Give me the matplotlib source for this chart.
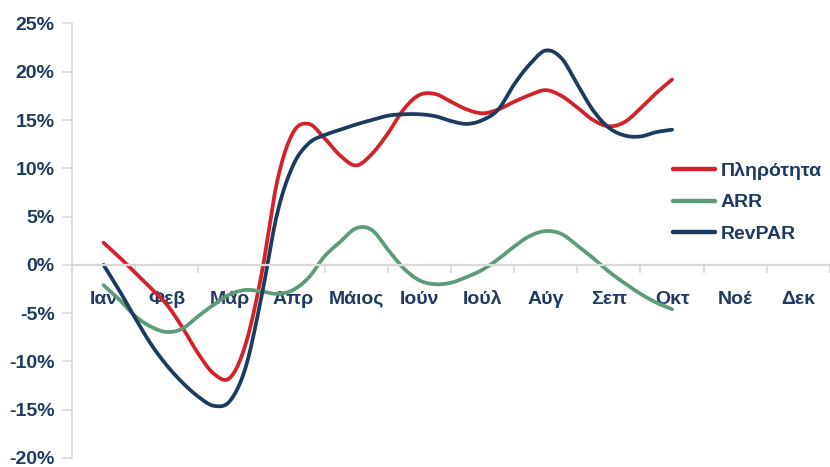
import numpy as np
import matplotlib
matplotlib.use("Agg")
import matplotlib.pyplot as plt
from matplotlib.ticker import FuncFormatter, FixedLocator

# Month labels on the category axis
months = ["Ιαν", "Φεβ", "Μάρ", "Απρ", "Μάιος", "Ιούν",
          "Ιούλ", "Αύγ", "Σεπ", "Οκτ", "Νοέ", "Δεκ"]

# Readings every quarter month, Jan → Oct (% change y/y)
occupancy = [2.3, 0.8, -0.8, -2.4, -4.1, -6.5, -9.2, -11.3, -11.7, -8.2,
             -1.0, 8.7, 13.7, 14.6, 13.1, 11.3, 10.3, 11.5, 13.6, 16.1,
             17.6, 17.7, 16.9, 16.1, 15.7, 16.1, 16.9, 17.6, 18.1, 17.5,
             16.3, 15.0, 14.35, 14.8, 16.2, 17.8, 19.2]
arr = [-2.1, -3.6, -5.3, -6.4, -6.95, -6.6, -5.3, -4.1, -3.05, -2.6,
       -2.75, -3.0, -2.6, -1.3, 0.9, 2.4, 3.8, 3.6, 1.6, -0.35,
       -1.6, -2.0, -1.85, -1.25, -0.5, 0.6, 1.9, 3.0, 3.5, 3.2,
       2.0, 0.7, -0.7, -1.9, -3.0, -3.9, -4.6]
revpar = [0.0, -2.65, -5.5, -8.2, -10.4, -12.2, -13.65, -14.6, -14.1, -10.6,
          -3.3, 5.35, 10.3, 12.6, 13.45, 14.0, 14.55, 15.0, 15.45, 15.6,
          15.6, 15.4, 14.9, 14.6, 15.0, 16.1, 18.7, 20.8, 22.2, 21.4,
          18.7, 16.0, 14.2, 13.4, 13.3, 13.75, 14.0]

series_names = ["Πληρότητα", "ARR", "RevPAR"]
colors = ["#d3222a", "#5c9c78", "#1d3a5f"]
text_color = "#1f3a60"


def smooth(x, y, n=12):
    """Catmull-Rom curve through the points, for smoothed line drawing."""
    x = np.asarray(x, float)
    y = np.asarray(y, float)
    px = np.concatenate([[2 * x[0] - x[1]], x, [2 * x[-1] - x[-2]]])
    py = np.concatenate([[2 * y[0] - y[1]], y, [2 * y[-1] - y[-2]]])
    t = np.linspace(0, 1, n, endpoint=False)
    xs, ys = [], []
    for i in range(1, len(px) - 2):
        for arrp, out in ((px, xs), (py, ys)):
            p0, p1, p2, p3 = arrp[i - 1:i + 3]
            out.append(0.5 * ((2 * p1) + (-p0 + p2) * t
                              + (2 * p0 - 5 * p1 + 4 * p2 - p3) * t ** 2
                              + (-p0 + 3 * p1 - 3 * p2 + p3) * t ** 3))
    xs.append([x[-1]])
    ys.append([y[-1]])
    return np.concatenate(xs), np.concatenate(ys)


plt.rcParams["font.family"] = ["Liberation Sans", "DejaVu Sans"]
plt.rcParams["font.weight"] = "bold"

fig = plt.figure(figsize=(8.3, 4.67), dpi=100)
ax = fig.add_axes([0.0867, 0.0193, 0.9133, 0.9304])

xq = np.arange(len(occupancy)) / 4.0
for vals, name, c in zip([occupancy, arr, revpar], series_names, colors):
    sx, sy = smooth(xq, vals)
    ax.plot(sx, sy, color=c, lw=2.7, label=name, solid_capstyle="round",
            solid_joinstyle="round")

ax.set_xlim(-0.5, 11.5)
ax.set_ylim(-20, 25)

# Axes: vertical on the left, horizontal through zero
for s in ("top", "right"):
    ax.spines[s].set_visible(False)
ax.spines["left"].set_color("#d9d9d9")
ax.spines["left"].set_linewidth(1.2)
ax.spines["bottom"].set_position(("data", 0))
ax.spines["bottom"].set_color("#d9d9d9")
ax.spines["bottom"].set_linewidth(1.6)

ax.yaxis.set_major_locator(FixedLocator(np.arange(-20, 26, 5)))
ax.yaxis.set_major_formatter(FuncFormatter(lambda v, p: f"{v:.0f}%"))
ax.tick_params(axis="y", length=7, color="#d9d9d9", width=1.2, pad=5.5,
               labelsize=14, labelcolor=text_color)

ax.set_xticks(np.arange(12))
ax.set_xticklabels(months)
ax.set_xticks(np.arange(0.5, 12, 1.0), minor=True)
ax.tick_params(axis="x", which="major", length=0, pad=18.5,
               labelsize=14, labelcolor=text_color)
ax.tick_params(axis="x", which="minor", length=6, color="#d9d9d9", width=1.2)

leg = ax.legend(loc="upper left", bbox_to_anchor=(0.783, 0.699),
                frameon=False, fontsize=14, handlelength=2.16,
                handletextpad=0.26, labelspacing=0.71, borderaxespad=0)
for t in leg.get_texts():
    t.set_color(text_color)
for h in leg.get_lines():
    h.set_linewidth(3.2)

fig.savefig("out.png", dpi=100)
